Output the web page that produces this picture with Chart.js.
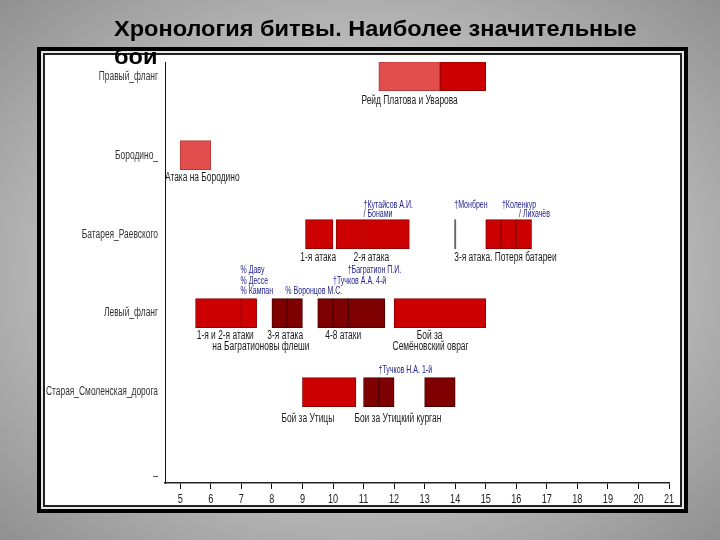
<!DOCTYPE html>
<html>
<head>
<meta charset="utf-8">
<script src="https://cdn.jsdelivr.net/npm/chart.js@4.4.1/dist/chart.umd.min.js"></script>
<style>
  html, body { margin: 0; padding: 0; }
  body {
    width: 720px; height: 540px; position: relative; overflow: hidden;
    background: radial-gradient(ellipse at 50% 50%, #d4d4d4 0%, #bdbdbd 55%, #909090 100%);
  }
  #panel {
    position: absolute; left: 37px; top: 47px; width: 643px; height: 458px;
    background: #fff; border: 4px solid #000;
    box-shadow: inset 0 0 0 2px #e6e6e6, inset 0 0 0 4px #222;
  }
  #titulo {
    position: absolute; left: 114px; top: 15px; width: 505px;
    font: bold 22px "Liberation Sans", Arial, sans-serif; line-height: 28px;
    color: #000; z-index: 3;
    transform: scaleX(1.07); transform-origin: 0 0;
  }
  #grafica { position: absolute; left: 0; top: 0; z-index: 2; }
</style>
</head>
<body>
<div id="panel"></div>
<div id="titulo">Хронология битвы. Наиболее значительные бои</div>
<canvas id="grafica" width="720" height="540"></canvas>
<script>
// направления (ось Y, сверху вниз)
let filas = ['Правый_фланг', 'Бородино_', 'Батарея_Раевского', 'Левый_фланг', 'Старая_Смоленская_дорога', '_'];
let ticksX = [5, 6, 7, 8, 9, 10, 11, 12, 13, 14, 15, 16, 17, 18, 19, 20, 21];

// отрезки: строка, начало, конец (часы), тип
let barFila   = [0, 0, 1, 2, 2, 2, 2, 2, 2, 2, 3, 3, 3, 3, 3, 3, 3, 3, 4, 4, 4, 4];
let barInicio = [11.5, 13.5, 5, 9.1, 10.1, 11, 13.98, 15, 15.5, 16, 5.5, 7, 8, 8.5, 9.5, 10, 10.5, 12, 9, 11, 11.5, 13];
let barFin    = [13.5, 15, 6, 10, 11, 12.5, 14.02, 15.5, 16, 16.5, 7, 7.5, 8.5, 9, 10, 10.5, 11.7, 15, 10.75, 11.5, 12, 14];
let barTipo   = ['claro', 'rojo', 'claro', 'rojo', 'rojo', 'rojo', 'marca', 'rojo', 'rojo', 'rojo',
                 'rojo', 'rojo', 'oscuro', 'oscuro', 'oscuro', 'oscuro', 'oscuro', 'rojo', 'rojo', 'oscuro', 'oscuro', 'oscuro'];

// подписи событий
let capTexto = ['Рейд Платова и Уварова', 'Атака на Бородино', '1-я атака', '2-я атака', '3-я атака. Потеря батареи',
                '1-я и 2-я атаки', 'на Багратионовы флеши', '3-я атака', '4-8 атаки', 'Бой за', 'Семёновский овраг',
                'Бой за Утицы', 'Бои за Утицкий курган'];
let capX = [10.93, 4.5, 8.93, 10.67, 13.97, 5.54, 6.05, 7.85, 9.75, 12.74, 11.95, 8.31, 10.7];
let capY = [0.31, 1.29, 2.3, 2.3, 2.3, 3.29, 3.42, 3.29, 3.29, 3.29, 3.42, 4.33, 4.33];

// потери (синим)
let perTexto = ['†Кутайсов А.И.', '/ Бонами', '†Монбрен', '†Коленкур', '/ Лихачёв',
                '% Даву', '% Дессе', '% Кампан', '% Воронцов М.С.', '†Тучков А.А. 4-й', '†Багратион П.И.',
                '†Тучков Н.А. 1-й'];
let perX = [11.0, 11.0, 13.97, 15.53, 16.09, 6.97, 6.97, 6.97, 8.44, 10.0, 10.48, 11.49];
let perY = [1.63, 1.74, 1.63, 1.63, 1.74, 2.45, 2.59, 2.72, 2.72, 2.59, 2.45, 3.72];

let coloresRelleno = { claro: '#e24d4d', rojo: '#cc0000', oscuro: '#7e0000', marca: '#666666' };
let coloresBorde = { claro: '#b83a3a', rojo: '#8e0000', oscuro: '#4a0000', marca: '#666666' };
let fuente = '"Liberation Sans", Arial, sans-serif';

// текст, сжатый по горизонтали (как узкий шрифт оригинала)
function TextoEstrecho(ctx, texto, x, y, escala)
{
    ctx.save();
    ctx.translate(x, y);
    ctx.scale(escala, 1);
    ctx.fillText(texto, 0, 0);
    ctx.restore();
}

let etiquetas = {
    id: 'etiquetas',
    afterDraw(chart) {
        let ctx = chart.ctx;
        let sx = chart.scales.x;
        let sy = chart.scales.y;
        ctx.save();
        ctx.textBaseline = 'middle';

        // названия направлений
        ctx.textAlign = 'right';
        ctx.font = '12px ' + fuente;
        ctx.fillStyle = '#333';
        sy.ticks.forEach(t => {
            TextoEstrecho(ctx, filas[t.value], sy.right - 7, sy.getPixelForValue(t.value), 0.7);
        });

        // часы
        ctx.textAlign = 'center';
        ctx.textBaseline = 'top';
        ctx.font = '12px ' + fuente;
        ctx.fillStyle = '#222';
        sx.ticks.forEach(t => {
            TextoEstrecho(ctx, String(t.value), sx.getPixelForValue(t.value), sx.top + 11, 0.76);
        });

        ctx.textAlign = 'left';
        ctx.textBaseline = 'middle';
        ctx.font = '12px ' + fuente;
        ctx.fillStyle = '#1a1a1a';
        capTexto.forEach((t, i) => {
            TextoEstrecho(ctx, t, sx.getPixelForValue(capX[i]), sy.getPixelForValue(capY[i]), 0.7);
        });
        ctx.font = '10.5px ' + fuente;
        ctx.fillStyle = '#1c1c8e';
        perTexto.forEach((t, i) => {
            TextoEstrecho(ctx, t, sx.getPixelForValue(perX[i]), sy.getPixelForValue(perY[i]), 0.67);
        });
        ctx.restore();
    }
};

let datos = barFila.map((f, i) => ({ x: [barInicio[i], barFin[i]], y: f }));

let grafica = new Chart(document.getElementById('grafica').getContext('2d'), {
    type: 'bar',
    data: {
        datasets: [{
            data: datos,
            backgroundColor: barTipo.map(t => coloresRelleno[t]),
            borderColor: barTipo.map(t => coloresBorde[t]),
            borderWidth: barTipo.map(t => t === 'marca' ? 0 : 1),
            borderSkipped: false,
            barThickness: 29
        }]
    },
    options: {
        indexAxis: 'y',
        responsive: false,
        animation: false,
        layout: { padding: { left: 4, right: 51, top: 62, bottom: 27 } },
        plugins: { legend: { display: false }, tooltip: { enabled: false } },
        scales: {
            x: {
                type: 'linear',
                min: 4.5,
                max: 21,
                afterBuildTicks: (scale) => { scale.ticks = ticksX.map(v => ({ value: v })); },
                afterFit: (scale) => { scale.height = 30; },
                grid: { drawOnChartArea: false, drawTicks: true, tickLength: 6, color: '#111' },
                border: { display: true, color: '#222', width: 1.5 },
                ticks: { display: false }
            },
            y: {
                type: 'linear',
                reverse: true,
                offset: false,
                min: -0.18,
                max: 5.15,
                afterBuildTicks: (scale) => { scale.ticks = filas.map((n, i) => ({ value: i })); },
                afterFit: (scale) => { scale.width = 161; },
                grid: { display: false, drawTicks: false, offset: false },
                border: { display: true, color: '#111', width: 1 },
                ticks: { display: false }
            }
        }
    },
    plugins: [etiquetas]
});
</script>
</body>
</html>
